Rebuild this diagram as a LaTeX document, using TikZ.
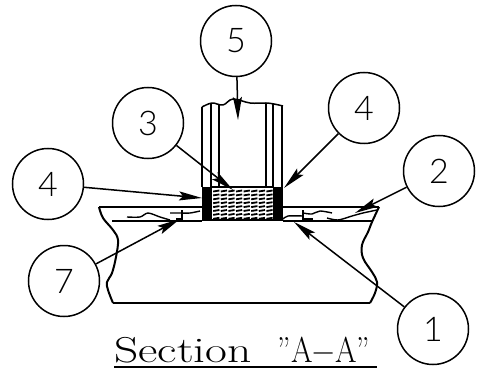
\documentclass[tikz,border=0pt]{standalone}
\usepackage{fontspec}
\newfontfamily\digitfont{Lato Light}
\usetikzlibrary{arrows.meta}
\tikzset{
  numcircle/.style={circle,draw,line width=1.5pt,minimum size=71pt,inner sep=0pt,font=\digitfont\fontsize{34}{34}\selectfont},
  leader/.style={line width=1.5pt,-{Stealth[length=23pt,width=9pt,inset=4pt]}},
  outline/.style={line width=2pt,line join=round},
  thin outline/.style={line width=1.5pt,line join=round},
  squiggle/.style={line width=1.4pt}
}
\begin{document}
\begin{tikzpicture}[x=1pt,y=-1pt]
\useasboundingbox (0,0) rectangle (478,371);
% column
\draw[thin outline] (202,187)--(202,107);
\draw[outline] (211,187)--(211,104);
\draw[thin outline] (219,187)--(219,105);
\draw[thin outline] (266,187)--(266,103);
\draw[outline] (273,187)--(273,104);
\draw[thin outline] (282,187)--(282,106);
\draw[thin outline] plot[smooth,tension=.6] coordinates {(202,107)(212,103)(223,105)(233,99)(250,103)(266,103)(274,104)(283,106)};
% plate
\draw[outline] (99,207)--(202,207);
\draw[outline] (283,207)--(379,207);
\draw[outline] (112,221)--(202,221);
\draw[outline] (283,221)--(372,221);
\draw[outline] plot[smooth,tension=.6] coordinates {(99,207)(103,218)(113,230)(118,240)(116,257)(112,273)(107,282)(108,290)(113,303)};
\draw[outline] (113,303)--(370,303);
\draw[outline] plot[smooth,tension=.6] coordinates {(379,207)(372,222)(368,232)(362,245)(363,258)(372,272)(377,282)(375,293)(370,303)};
% squiggles
\draw[squiggle] plot[smooth] coordinates {(127,217)(140,217)(148,213)(160,217)(170,220)};
\draw[squiggle] plot[smooth] coordinates {(170,213)(180,213)(190,213)(200,211)};
\draw[squiggle] (182,210)--(182,221);
\draw[squiggle] (176,219)--(182,219);
\draw[squiggle] plot[smooth] coordinates {(283,219)(288,216)(303,216)};
\draw[squiggle] (303,210)--(303,221);
\draw[squiggle] (303,219)--(313,219);
\draw[squiggle] plot[smooth] coordinates {(303,213)(312,214)(320,211)(332,213)};
\draw[squiggle] plot[smooth] coordinates {(327,218)(338,220)(352,216)(363,213)(377,210)};
% blocks
\fill (202,187) rectangle (212,221);
\fill (273,187) rectangle (283,221);
\draw[line width=1.5pt] (212,187)--(273,187);
\draw[line width=1.5pt] (212,220)--(273,220);
% hatch
\foreach \r in {0,...,7}{
  \foreach \c in {0,...,7}{
    \draw[line width=1.8pt] ({213.2+\c*7.6},{191.5+\r*3.9}) -- ++(6.2,-1);
  }
}
% circles
\node[numcircle] (c5) at (236,41) {5};
\node[numcircle] (c3) at (148,123) {3};
\node[numcircle] (c4r) at (364,108) {4};
\node[numcircle] (c2) at (439,171) {2};
\node[numcircle] (c4l) at (48,184) {4};
\node[numcircle] (c7) at (64,281) {7};
\node[numcircle] (c1) at (433,329) {1};
% leader ends
\coordinate (t5) at (238,120);
\coordinate (t3) at (233,190);
\coordinate (t4r) at (284,188);
\coordinate (t4l) at (202,198);
\coordinate (t2) at (355,213);
\coordinate (t7) at (180,219);
\coordinate (t1) at (294,222);
\draw[leader] (c5) -- (t5);
\draw[leader] (c3) -- (t3);
\draw[leader] (c4r) -- (t4r);
\draw[leader] (c4l) -- (t4l);
\draw[leader] (c2) -- (t2);
\draw[leader] (c7) -- (t7);
\draw[leader] (c1) -- (t1);
% title
\node[anchor=base west,inner sep=0pt,font=\rmfamily\fontsize{36}{36}\selectfont] (title) at (114,362) {\scalebox{1.32}[1]{Section}\hspace{26pt}\scalebox{.86}[1]{”A−A”}};
\draw[line width=2pt] (114,366.5)--(377,366.5);
\end{tikzpicture}
\end{document}
